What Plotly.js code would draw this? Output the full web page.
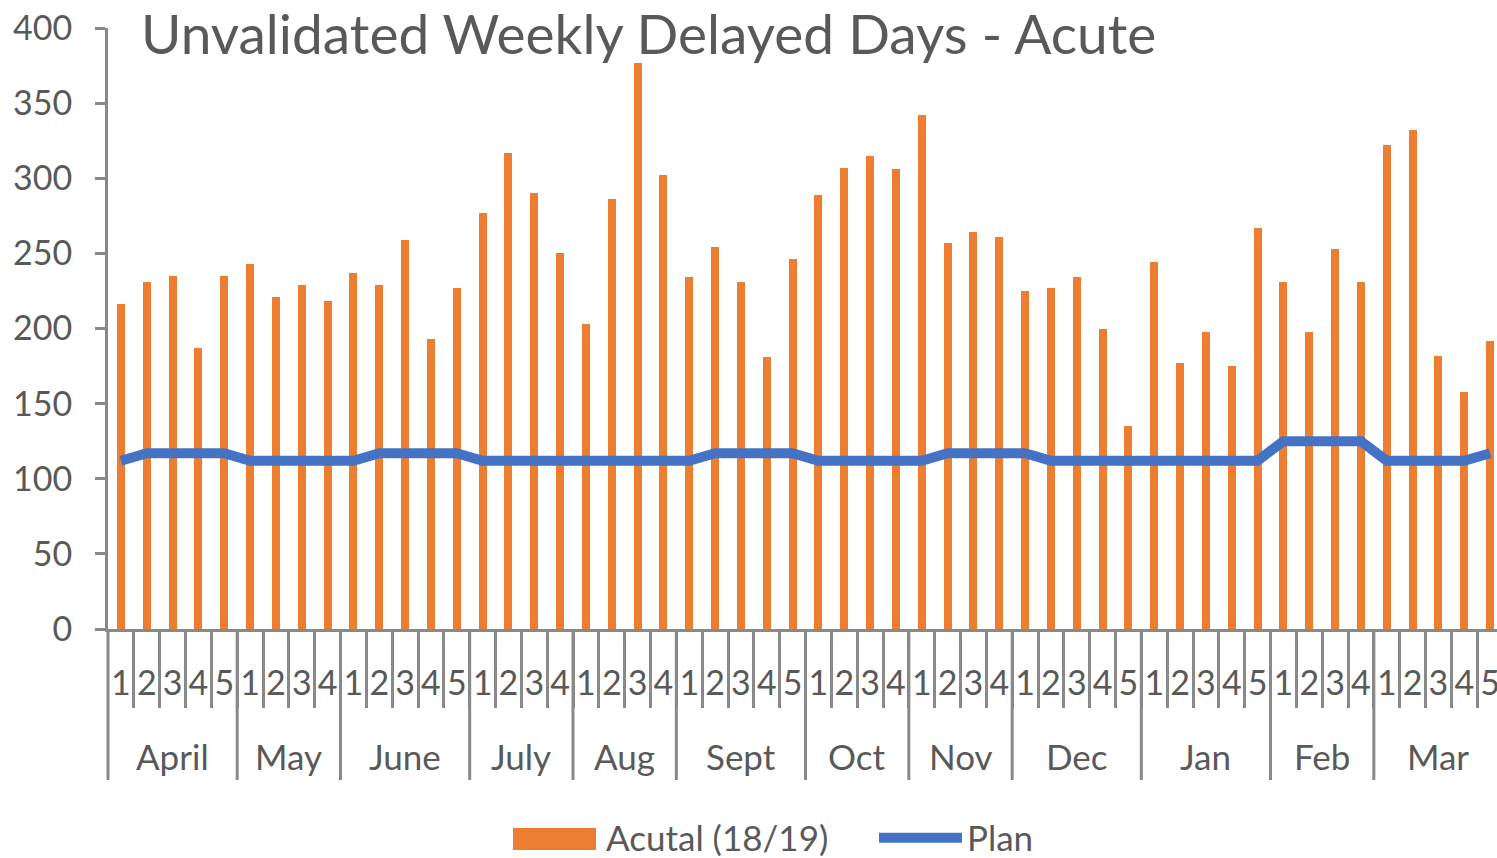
<!DOCTYPE html>
<html><head><meta charset="utf-8">
<script src="https://cdn.plot.ly/plotly-3.0.1.min.js"></script>
<style>html,body{margin:0;padding:0;overflow:hidden;background:#fff}#chart{width:1503px;height:858px}</style>
</head><body><div id="chart"></div>
<script>
const months = ['April','May','June','July','Aug','Sept','Oct','Nov','Dec','Jan','Feb','Mar'];
const weeksInMonth = [5,4,5,4,4,5,4,4,5,5,4,5];
const weekLabels = [
  '1','2','3','4','5',
  '1','2','3','4',
  '1','2','3','4','5',
  '1','2','3','4',
  '1','2','3','4',
  '1','2','3','4','5',
  '1','2','3','4',
  '1','2','3','4',
  '1','2','3','4','5',
  '1','2','3','4','5',
  '1','2','3','4',
  '1','2','3','4','5'
];
const actual = [
  216,231,235,187,235,
  243,221,229,218,
  237,229,259,193,227,
  277,317,290,250,
  203,286,377,302,
  234,254,231,181,246,
  289,307,315,306,
  342,257,264,261,
  225,227,234,200,135,
  244,177,198,175,267,
  231,198,253,231,
  322,332,182,158,192
];
const plan = [
  112,117,117,117,117,
  112,112,112,112,
  112,117,117,117,117,
  112,112,112,112,
  112,112,112,112,
  112,117,117,117,117,
  112,112,112,112,
  112,117,117,117,
  117,112,112,112,112,
  112,112,112,112,112,
  125,125,125,125,
  112,112,112,112,117
];

const FONT = 'Lato, "Open Sans", sans-serif';
const TXT = '#595959';
const AX = '#898989';
const ORANGE = '#ED7D31';
const BLUE = '#4472C4';

const N = actual.length;
const idx = actual.map((_, i) => i);

// boundaries and month centres derived from weeksInMonth
const monthStarts = [];
let acc = 0;
weeksInMonth.forEach(n => { monthStarts.push(acc); acc += n; });
const weekBounds = [];
for (let i = 1; i < N; i++) weekBounds.push(i - 0.5);

const shapes = monthStarts.map(s => ({
  type: 'line', xref: 'paper', yref: 'paper',
  x0: s / N, x1: s / N, y0: 0, y1: -151/601,
  line: {color: AX, width: 3}
}));
// legend swatch for the bar series (wide rectangle as in the original)
shapes.push({
  type: 'rect', xref: 'paper', yref: 'paper', layer: 'above',
  x0: (513-108)/1395, x1: (596-108)/1395, y0: (629-828)/601, y1: (629-850)/601,
  fillcolor: ORANGE, line: {width: 0}
});

const annotations = months.map((m, k) => ({
  text: m, xref: 'x', yref: 'paper',
  x: monthStarts[k] + (weeksInMonth[k] - 1) / 2, y: -127/601,
  yanchor: 'middle', xanchor: 'center', showarrow: false,
  font: {family: FONT, size: 35, color: TXT}
}));

const traces = [
  {type: 'bar', x: idx, y: actual, name: 'Acutal (18/19)', marker: {color: ORANGE},
   width: 0.31, showlegend: false, hoverinfo: 'y'},
  {type: 'scatter', mode: 'lines', x: [null], y: [null], name: 'Acutal (18/19)',
   line: {color: 'rgba(0,0,0,0)', width: 1}, showlegend: true, hoverinfo: 'skip'},
  {type: 'scatter', mode: 'lines', x: idx, y: plan, name: 'Plan',
   line: {color: BLUE, width: 10}, hoverinfo: 'y'}
];

const layout = {
  width: 1503, height: 858,
  margin: {l: 108, r: 0, t: 28, b: 229, autoexpand: false},
  paper_bgcolor: '#fff', plot_bgcolor: '#fff',
  font: {family: FONT, color: TXT, size: 33},
  title: {text: 'Unvalidated Weekly Delayed Days - Acute',
    x: 141/1503, xref: 'container', xanchor: 'left',
    y: 1 - 35/858, yref: 'container', yanchor: 'middle',
    font: {family: FONT, size: 55, color: TXT}},
  showlegend: true,
  legend: {orientation: 'h', x: (513-108)/1395, xanchor: 'left', y: (629-838)/601, yanchor: 'middle',
    bgcolor: 'rgba(0,0,0,0)',
    font: {family: FONT, size: 35, color: TXT}, itemwidth: 83, entrywidth: 263, entrywidthmode: 'pixels',
    traceorder: 'normal'},
  xaxis: {
    type: 'linear', range: [-0.5, N - 0.5],
    tickmode: 'array', tickvals: idx, ticktext: weekLabels,
    ticks: '', showgrid: false, zeroline: false,
    showline: true, linecolor: AX, linewidth: 3,
    tickfont: {family: FONT, size: 34, color: TXT},
    ticklabelstandoff: 22,
    minor: {tickmode: 'array', tickvals: weekBounds, ticks: 'outside', ticklen: 76, tickwidth: 3, tickcolor: AX, showgrid: false},
    fixedrange: true, automargin: false
  },
  yaxis: {
    range: [0, 400], tickmode: 'linear', tick0: 0, dtick: 50,
    ticks: 'outside', ticklen: 10, tickwidth: 3, tickcolor: AX,
    showline: true, linecolor: AX, linewidth: 3,
    showgrid: false, zeroline: false,
    tickfont: {family: FONT, size: 34, color: TXT},
    ticklabelstandoff: 16, fixedrange: true, automargin: false
  },
  shapes: shapes,
  annotations: annotations,
  bargap: 0
};

Plotly.newPlot('chart', traces, layout, {displayModeBar: false, staticPlot: true});
</script></body></html>
